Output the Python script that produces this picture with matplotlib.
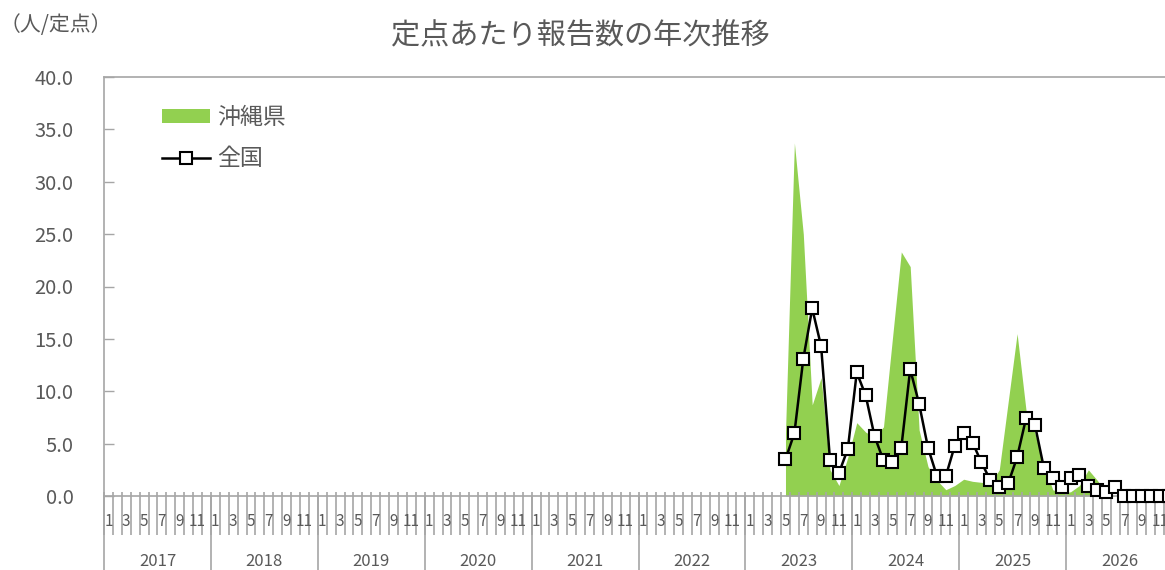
import matplotlib
matplotlib.use("Agg")
import matplotlib.pyplot as plt
from matplotlib.patches import Patch
from matplotlib.lines import Line2D

plt.rcParams['font.family'] = ['Noto Sans CJK JP', 'DejaVu Sans']

# Data
years = [2017, 2018, 2019, 2020, 2021, 2022, 2023, 2024, 2025, 2026]
month_labels = ['1', '3', '5', '7', '9', '11']
start_index = 76  # 2023年5月
okinawa = [6.0, 33.7, 25.0, 8.7, 11.3, 2.5, 1.0, 3.7,
           7.0, 6.1, 5.6, 6.6, 15.0, 23.3, 21.9, 6.3, 2.8, 1.5, 0.6, 1.0,
           1.6, 1.4, 1.3, 1.2, 2.5, 9.0, 15.5, 8.2, 6.0, 3.0, 0.6, 0.3,
           0.4, 1.0, 2.5, 1.5, 0.3, 0.0, 0.0, 0.0, 0.0, 0.0, 0.0, 0.0]
zenkoku = [3.5, 6.0, 13.1, 17.9, 14.3, 3.4, 2.2, 4.5,
           11.8, 9.6, 5.7, 3.4, 3.2, 4.6, 12.1, 8.8, 4.6, 1.9, 1.9, 4.8,
           6.0, 5.1, 3.2, 1.5, 0.9, 1.2, 3.7, 7.4, 6.8, 2.7, 1.7, 0.9,
           1.7, 2.0, 1.0, 0.6, 0.4, 0.9, 0.0, 0.0, 0.0, 0.0, 0.0, 0.0]

n_months = len(years) * 12
x = list(range(start_index, start_index + len(okinawa)))

green = '#92D050'
gray = '#A6A6A6'
text_gray = '#595959'

fig = plt.figure(figsize=(11.65, 5.7), dpi=100)
ax = fig.add_axes([104 / 1165, 1 - 496 / 570, 1069 / 1165, 419 / 570])

ax.fill_between(x, okinawa, 0, color=green, lw=0, zorder=2)
ax.plot(x, zenkoku, color='black', lw=1.8, marker='s', markersize=8,
        markerfacecolor='white', markeredgecolor='black', markeredgewidth=1.5,
        zorder=3, clip_on=False)

ax.set_xlim(-0.5, n_months - 0.5)
ax.set_ylim(0, 40)
ax.set_yticks([0, 5, 10, 15, 20, 25, 30, 35, 40])
ax.set_yticklabels(['%.1f' % v for v in ax.get_yticks()])
ax.tick_params(axis='y', direction='in', length=7, color=gray, width=1,
               labelsize=14.5, labelcolor=text_gray, pad=22)
ax.set_xticks([])
for side in ['left', 'top', 'bottom']:
    ax.spines[side].set_color(gray)
    ax.spines[side].set_linewidth(1.2)
ax.spines['right'].set_visible(False)

# category axis: month separators, month labels, year separators, year labels
px = 1 / 419
trans = ax.get_xaxis_transform()
bounds = [i - 0.5 for i in range(n_months + 1)]
ax.vlines(bounds, -39 * px, 4 * px, transform=trans, colors=gray, lw=1.2, clip_on=False)
ax.vlines(bounds[::12], -80 * px, 0, transform=trans, colors=gray, lw=1.2, clip_on=False)
for k, yr in enumerate(years):
    for j, lab in enumerate(month_labels):
        ax.text(k * 12 + j * 2, -26 * px, lab, transform=trans, ha='center', va='center',
                fontsize=11, color=text_gray)
    ax.text(k * 12 + 5.5, -66 * px, str(yr), transform=trans, ha='center', va='center',
            fontsize=12, color=text_gray)

handles = [Patch(facecolor=green, edgecolor='none'),
           Line2D([0], [0], color='black', lw=1.8, marker='s', markersize=8,
                  markerfacecolor='white', markeredgecolor='black', markeredgewidth=1.5)]
leg = ax.legend(handles, ['沖縄県', '全国'], loc='upper left',
                bbox_to_anchor=(58 / 1069, 1 - 29 / 419), frameon=False,
                fontsize=16.5, handlelength=2.1, handleheight=0.55, handletextpad=0.3,
                labelspacing=0.8, borderpad=0, borderaxespad=0)
for t in leg.get_texts():
    t.set_color(text_gray)

fig.text(580 / 1165, 1 - 36 / 570, '定点あたり報告数の年次推移', ha='center', va='center',
         fontsize=21, color=text_gray)
fig.text(0, 1 - 25 / 570, '（人/定点）', ha='left', va='center',
         fontsize=15, color=text_gray)

fig.savefig('out.png', dpi=100)
